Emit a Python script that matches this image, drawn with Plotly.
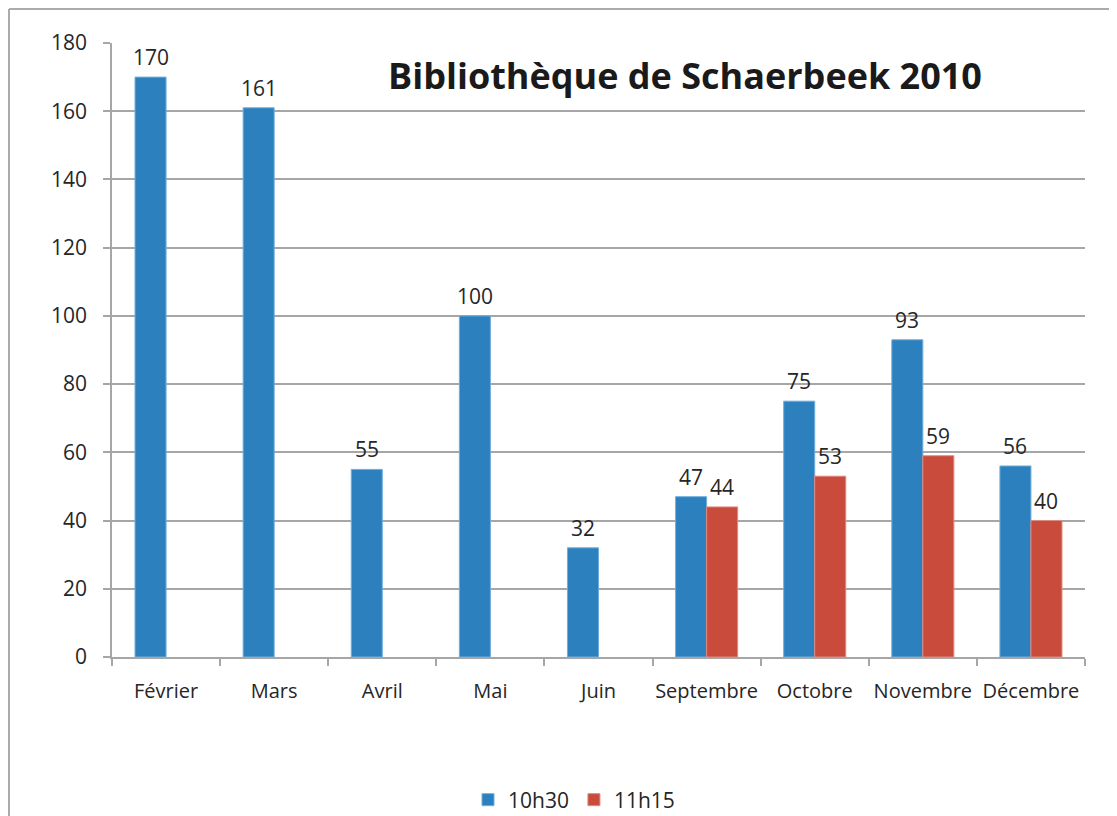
import plotly.graph_objects as go

months = ["Février", "Mars", "Avril", "Mai", "Juin", "Septembre", "Octobre", "Novembre", "Décembre"]
s1030 = [170, 161, 55, 100, 32, 47, 75, 93, 56]
s1115 = [None, None, None, None, None, 44, 53, 59, 40]
series_names = ["10h30", "11h15"]
title_text = "Bibliothèque de Schaerbeek 2010"

OFF = 8  # page body margin
W, H = 1117 - OFF, 816 - OFF
L, R, T, B = 112 - OFF, 1085 - OFF, 43 - OFF, 657 - OFF

FONT = "'Open Sans', sans-serif"
FS = 21
TXT = "#262626"
BLUE = "#2C80BE"
RED = "#C84B3B"
GRID = "#A6A6A6"


def px_x(p):
    return (p - OFF - L) / (R - L)


def px_y(p):
    return (B - (p - OFF)) / (B - T)


fig = go.Figure()
fig.add_trace(go.Bar(
    x=months, y=s1030, name=series_names[0],
    marker=dict(color=BLUE, line=dict(color="#6FAEDC", width=1)),
))
fig.add_trace(go.Bar(
    x=months, y=s1115, name=series_names[1],
    marker=dict(color=RED, line=dict(color="#E08A7E", width=1)),
))

fig.update_layout(
    width=W, height=H,
    margin=dict(l=L, r=W - R, t=T, b=H - B, autoexpand=False),
    paper_bgcolor="white", plot_bgcolor="white",
    barmode="group", bargap=0.426, bargroupgap=0,
    font=dict(family=FONT, size=FS, color=TXT),
    showlegend=True,
    legend=dict(orientation="h", x=px_x(574), xanchor="center", y=px_y(800), yanchor="middle",
                font=dict(family=FONT, size=FS, color=TXT), traceorder="normal"),
)
fig.update_yaxes(
    range=[0, 180], dtick=20, showgrid=True, gridcolor=GRID, gridwidth=1.5,
    showline=True, linecolor=GRID, linewidth=1.5,
    ticks="outside", ticklen=7, tickcolor=GRID, tickwidth=1.5,
    tickfont=dict(family=FONT, size=FS, color=TXT), ticklabelstandoff=12, zeroline=False,
)
fig.update_xaxes(
    showline=True, linecolor=GRID, linewidth=1.5,
    ticks="outside", ticklen=7, tickcolor=GRID, tickwidth=1.5, tickson="boundaries",
    tickangle=0,
    tickfont=dict(family=FONT, size=20, color=TXT), ticklabelstandoff=15,
)

# data labels above bars, positioned through the axes
for m, v in zip(months, s1030):
    if v is not None:
        fig.add_annotation(x=m, y=v, xref="x", yref="y", text=str(v), showarrow=False,
                           xshift=-15.5, yshift=20, yanchor="middle",
                           font=dict(family=FONT, size=FS, color=TXT))
for m, v in zip(months, s1115):
    if v is not None:
        fig.add_annotation(x=m, y=v, xref="x", yref="y", text=str(v), showarrow=False,
                           xshift=15.5, yshift=20, yanchor="middle",
                           font=dict(family=FONT, size=FS, color=TXT))

fig.add_annotation(
    text="<b>" + title_text + "</b>", xref="paper", yref="paper",
    x=px_x(685), y=px_y(75), xanchor="center", yanchor="middle", showarrow=False,
    font=dict(family=FONT, size=36, color="#1A1A1A"),
)
# outer chart border (left and top only visible)
fig.add_shape(type="line", xref="paper", yref="paper",
              x0=px_x(OFF + 1), y0=px_y(816 + 10), x1=px_x(OFF + 1), y1=px_y(9),
              line=dict(color="#ABABAB", width=2))
fig.add_shape(type="line", xref="paper", yref="paper",
              x0=px_x(OFF + 1), y0=px_y(9), x1=px_x(1117 + 10), y1=px_y(9),
              line=dict(color="#ABABAB", width=2))

fig.write_html("out.html")
